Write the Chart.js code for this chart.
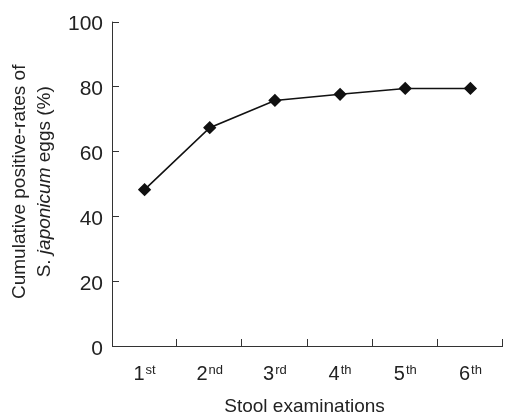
<!DOCTYPE html>
<html>
<head>
<meta charset="utf-8">
<script src="https://cdn.jsdelivr.net/npm/chart.js@4"></script>
<style>
  html, body { margin: 0; padding: 0; background: #fff; }
  #wrap { width: 505px; height: 414px; position: relative; }
</style>
</head>
<body>
<div id="wrap"><canvas id="chart" width="505" height="414"></canvas></div>
<script>
// dane
const ordinals = ["1", "2", "3", "4", "5", "6"];
const suffixes = ["st", "nd", "rd", "th", "th", "th"];
const positiveRates = [48.2, 67.3, 75.7, 77.6, 79.4, 79.4];
const yTicks = [0, 20, 40, 60, 80, 100];
const xTitle = "Stool examinations";
const yTitleLine1 = "Cumulative positive-rates of";
const yTitleParts = [
  { text: "S. ", italic: false },
  { text: "japonicum", italic: true },
  { text: " eggs (%)", italic: false },
];

const FONT = "Arial, 'Liberation Sans', sans-serif";
const AXIS_COLOR = "#333";
const TEXT_COLOR = "#222";

// ticki do wewnatrz, etykiety z indeksem gornym, tytuly osi
const decorPlugin = {
  id: "decor",
  afterDraw(chart) {
    const ctx = chart.ctx;
    const area = chart.chartArea;
    const xs = chart.scales.x;
    const ys = chart.scales.y;
    const tickLen = 7;

    ctx.save();
    ctx.strokeStyle = AXIS_COLOR;
    ctx.lineWidth = 1;

    // osie
    ctx.beginPath();
    ctx.moveTo(area.left + 0.5, area.top);
    ctx.lineTo(area.left + 0.5, area.bottom + 0.5);
    ctx.lineTo(area.right, area.bottom + 0.5);
    ctx.stroke();

    // ticki osi y
    yTicks.forEach((v) => {
      const py = Math.round(ys.getPixelForValue(v)) + 0.5;
      ctx.beginPath();
      ctx.moveTo(area.left, py);
      ctx.lineTo(area.left + tickLen, py);
      ctx.stroke();
    });

    // ticki osi x na granicach kategorii
    const n = ordinals.length;
    const step = (area.right - area.left) / n;
    for (let i = 1; i <= n; i++) {
      const px = Math.round(area.left + i * step) - 0.5;
      ctx.beginPath();
      ctx.moveTo(px, area.bottom);
      ctx.lineTo(px, area.bottom - tickLen);
      ctx.stroke();
    }

    // etykiety osi x: 1st, 2nd ...
    ctx.fillStyle = TEXT_COLOR;
    ctx.textBaseline = "alphabetic";
    ctx.textAlign = "left";
    const mainFont = "20px " + FONT;
    const supFont = "13px " + FONT;
    ordinals.forEach((num, i) => {
      const cx = xs.getPixelForTick(i);
      ctx.font = mainFont;
      const w1 = ctx.measureText(num).width;
      ctx.font = supFont;
      const w2 = ctx.measureText(suffixes[i]).width;
      const x0 = cx - (w1 + w2 + 1) / 2;
      const base = area.bottom + 34;
      ctx.font = mainFont;
      ctx.fillText(num, x0, base);
      ctx.font = supFont;
      ctx.fillText(suffixes[i], x0 + w1 + 1, base - 6);
    });

    // tytul osi x
    ctx.font = "19px " + FONT;
    ctx.textAlign = "center";
    ctx.fillText(xTitle, (area.left + area.right) / 2 - 3, 412);

    // tytul osi y (dwie linie, obrocone)
    const cy = (area.top + area.bottom) / 2 - 2;
    ctx.translate(0, cy);
    ctx.rotate(-Math.PI / 2);
    ctx.textAlign = "center";
    ctx.font = "19px " + FONT;
    ctx.fillText(yTitleLine1, 0, 25);

    let total = 0;
    yTitleParts.forEach((p) => {
      ctx.font = (p.italic ? "italic " : "") + "19px " + FONT;
      total += ctx.measureText(p.text).width;
    });
    let x = -total / 2;
    ctx.textAlign = "left";
    yTitleParts.forEach((p) => {
      ctx.font = (p.italic ? "italic " : "") + "19px " + FONT;
      ctx.fillText(p.text, x, 50);
      x += ctx.measureText(p.text).width;
    });
    ctx.restore();
  },
};

const ctx = document.getElementById("chart").getContext("2d");
new Chart(ctx, {
  type: "line",
  data: {
    labels: ordinals.map((n, i) => n + suffixes[i]),
    datasets: [
      {
        data: positiveRates,
        borderColor: "#111",
        backgroundColor: "#111",
        borderWidth: 1.6,
        pointStyle: "rectRot",
        pointRadius: 5.5,
        pointBackgroundColor: "#111",
        pointBorderColor: "#111",
        fill: false,
        tension: 0,
        clip: false,
      },
    ],
  },
  options: {
    responsive: false,
    animation: false,
    events: [],
    layout: {
      autoPadding: false,
      padding: { left: 0, right: 2, top: 19, bottom: 0 },
    },
    plugins: {
      legend: { display: false },
      tooltip: { enabled: false },
    },
    scales: {
      x: {
        type: "category",
        offset: true,
        grid: { display: false, drawTicks: false },
        border: { display: false },
        ticks: { display: false },
        afterFit(scale) {
          scale.height = 68;
        },
      },
      y: {
        min: 0,
        max: 100,
        grid: { display: false, drawTicks: false },
        border: { display: false },
        afterBuildTicks(scale) {
          scale.ticks = yTicks.map((v) => ({ value: v }));
        },
        ticks: {
          color: TEXT_COLOR,
          font: { family: FONT, size: 21 },
          padding: 9,
          labelOffset: 3,
        },
        afterFit(scale) {
          scale.width = 112;
        },
      },
    },
  },
  plugins: [decorPlugin],
});
</script>
</body>
</html>
